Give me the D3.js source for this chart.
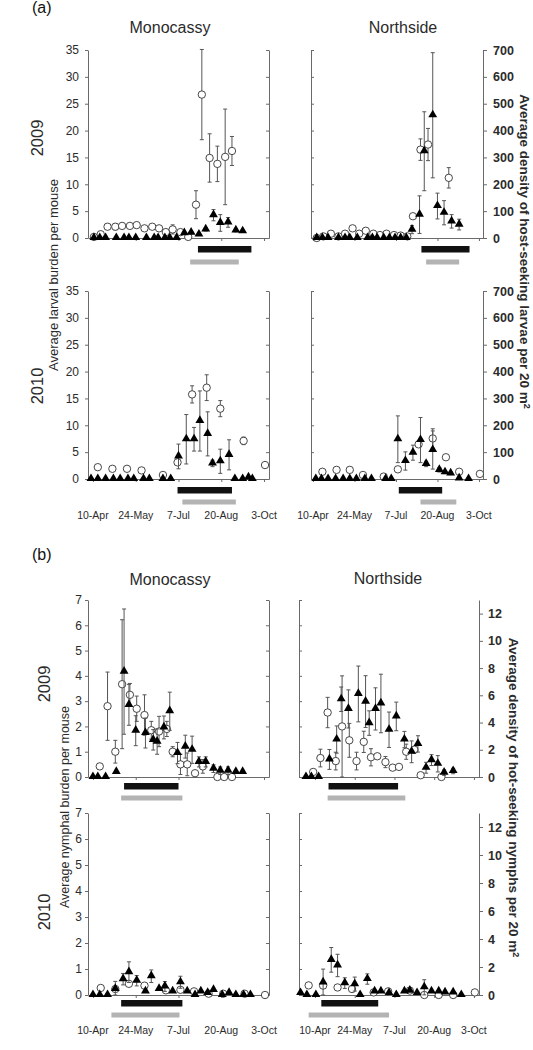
<!DOCTYPE html>
<html><head><meta charset="utf-8">
<script src="https://cdn.jsdelivr.net/npm/d3@7"></script>
<style>body{margin:0;background:#fff}svg{display:block;font-family:"Liberation Sans",Arial,sans-serif}</style>
</head><body><svg id="c" width="533" height="1050"></svg>
<script>
// ---------- axis categories / tick labels ----------
const tickDays = [0, 44, 88, 132, 176];              // days after 10-Apr
const tickLabels = ["10-Apr", "24-May", "7-Jul", "20-Aug", "3-Oct"];
const siteNames = ["Monocassy", "Northside"];
const yearNames = ["2009", "2010"];
const larvaBurdenTicks = [0, 5, 10, 15, 20, 25, 30, 35];
const larvaDensityTicks = [0, 100, 200, 300, 400, 500, 600, 700];
const nymphBurdenTicks = [0, 1, 2, 3, 4, 5, 6, 7];
const nymphDensityTicks = [0, 2, 4, 6, 8, 10, 12];

// ---------- data: [day after 10-Apr, mean, error] ----------
// (a) larvae. Burden = per mouse (left axis), Density = host-seeking per 20 m2 (right axis)
const larvMono09Burden = [[1,0.2,0.1],[8,0.7,0.2],[15,2.1,0.5],[23,2.1,0.6],[30,2.25,0.5],[38,2.25,0.4],[45,2.4,0.3],[53,1.8,0.3],[61,2.1,0.3],[68,1.8,0.3],[75,1.1,0.3],[82,1.6,0.85],[90,1.1,0.2],[98,0.2,0.1],[106,6.2,2.6],[112,26.7,8.4],[120,14.9,4.5],[128,13.8,3.3],[136,15.1,8.9],[143,16.2,2.7]];
const larvMono09Density = [[1,0,0],[7,0,0],[13,0,0],[24,0,0],[32,0,0],[37,0,0],[44,0,0],[55,0,0],[63,0,0],[67,0,0],[74,0,0],[79,0,0],[86,0,0],[94,18,4],[101,20,4],[109,13,3],[116,32,6],[124,85,21],[131,56,31],[139,58,18],[147,28,5],[154,25,4]];
const larvMono09Black = [108, 163];
const larvMono09Gray = [100, 150];

const larvNorth09Burden = [[4,0,0],[11,0.3,0],[19,0.8,0.1],[27,0.3,0],[34,0.8,0.1],[42,1.8,0.3],[49,0.8,0.1],[56,1.35,0.2],[64,0.8,0.1],[71,0.55,0],[78,0.8,0.1],[86,0.55,0],[93,0.45,0],[100,0.3,0],[106,4.05,0.4],[114,16.45,2.0],[122,17.4,3.0],[144,11.2,1.9]];
const larvNorth09Density = [[4,0,0],[10,0,0],[16,0,0],[27,0,0],[34,0,0],[39,0,0],[47,0,0],[58,0,0],[63,0,0],[68,0,0],[75,0,0],[81,0,0],[87,0,0],[93,0,0],[99,0,0],[105,31,15],[113,87,70],[118,323,147],[127,457,233],[132,119,48],[139,94,45],[147,62,25],[155,50,20]];
const larvNorth09Black = [115, 166];
const larvNorth09Gray = [120, 155];

const larvMono10Burden = [[5,2.2,0],[20,1.9,0],[35,1.9,0],[50,1.6,0],[72,0.75,0],[87,3.1,0.3],[102,15.75,1.6],[117,17.0,2.4],[131,13.1,1.5],[155,7.1,0.7],[177,2.6,0]];
const larvMono10Density = [[-2,0,0],[5,0,0],[13,0,0],[21,0,0],[28,0,0],[36,0,0],[42,0,0],[52,0,0],[58,0,0],[72,0,0],[80,0,0],[88,84,46],[96,148,92],[104,148,44],[110,216,112],[118,168,82],[123,58,12],[131,66,45],[140,90,56],[146,0,0],[154,0,0],[160,6,0],[164,0,0]];
const larvMono10Black = [87, 143];
const larvMono10Gray = [92, 147];

const larvNorth10Burden = [[10,1.35,0],[25,1.7,0],[39,1.7,0],[53,0.75,0],[75,0.45,0],[90,1.8,0],[112,6.45,0],[127,7.55,1.8],[141,4.05,0],[155,1.35,0],[177,0.95,0]];
const larvNorth10Density = [[3,0,0],[9,0,0],[16,0,0],[24,0,0],[32,0,0],[39,0,0],[46,0,0],[55,0,0],[62,0,0],[77,0,0],[83,0,0],[90,148,87],[98,67,34],[106,98,28],[114,145,84],[120,56,10],[127,108,71],[134,34,8],[140,25,5],[146,21,5],[155,2,0],[165,0,0]];
const larvNorth10Black = [91, 137];
const larvNorth10Gray = [114, 152];

// (b) nymphs
const nymMono09Burden = [[7,0.42,0.1],[15,2.8,1.35],[23,1.0,0.45],[30,3.67,2.55],[38,3.25,0.45],[45,2.7,0.5],[53,2.45,0.8],[60,1.85,0.35],[68,1.8,0.6],[76,1.9,0.3],[82,1.0,0.2],[90,0.5,0.4],[97,0.5,0.45],[105,0.15,0.1],[113,0.42,0.27],[128,0,0],[135,0,0],[143,0,0]];
const nymMono09Density = [[0,0,0],[5,0,0],[13,0,0],[24,0.37,0],[32,7.74,4.6],[37,5.3,1.5],[44,3.4,1.1],[54,3.23,1.1],[62,2.73,0.75],[66,2.6,0.93],[73,3.64,0.84],[79,4.83,1.4],[87,1.76,0.78],[95,2.23,0.84],[102,2.0,1.0],[109,1.11,0.37],[116,1.11,0.37],[124,0.61,0.28],[131,0.46,0.28],[139,0.46,0.28],[147,0.37,0],[154,0.37,0]];
const nymMono09Black = [32, 88];
const nymMono09Gray = [29, 92];

const nymNorth09Burden = [[-2,0.2,0],[6,0.75,0.35],[14,2.55,0.6],[23,0.63,0.35],[30,2.0,2.0],[38,1.45,0.67],[46,0.63,0.35],[54,1.39,0.42],[62,0.78,0.34],[69,0.82,0],[78,0.59,0.22],[86,0.37,0],[93,0.4,0],[101,1.0,0.3],[110,1.08,0],[117,0.07,0],[140,0,0]];
const nymNorth09Density = [[-10,0,0],[-4,0,0],[4,0,0],[16,1.29,0.73],[24,2.75,1.0],[29,5.71,0.9],[37,5.0,1.4],[48,6.1,2.05],[56,5.54,1.9],[60,3.96,0.9],[67,5.0,1.55],[73,5.4,2.15],[82,3.47,1.3],[90,4.45,1.05],[99,2.75,0.6],[107,1.85,0.8],[114,2.43,0.6],[123,0.68,0.4],[129,1.24,0.4],[136,0.97,0.6],[143,0.32,0.2],[153,0.44,0.2]];
const nymNorth09Black = [15, 92];
const nymNorth09Gray = [14, 100];

const nymMono10Burden = [[8,0.27,0],[23,0.23,0],[37,0.43,0.1],[53,0.36,0],[75,0.18,0],[90,0.2,0.05],[104,0.14,0],[119,0.05,0],[134,0.05,0],[156,0.05,0],[177,0,0]];
const nymMono10Density = [[0,0,0],[7,0,0],[15,0,0],[23,0.43,0.54],[31,1.13,0.41],[37,1.63,0.74],[45,1.02,0.37],[54,0.26,0],[60,1.34,0.45],[68,0.43,0],[74,0.61,0.35],[82,0.26,0],[90,0.91,0.43],[97,0.26,0],[105,0,0],[111,0.26,0],[118,0.15,0],[124,0.37,0],[133,0,0],[140,0.15,0],[147,0,0],[155,0,0],[162,0,0]];
const nymMono10Black = [29, 92];
const nymMono10Gray = [19, 89];

const nymNorth10Burden = [[-7,0.37,0],[9,0.36,0],[25,0.29,0],[41,0.23,0],[65,0.1,0],[81,0.14,0],[105,0.17,0],[121,0,0],[137,0,0],[153,0,0],[177,0.1,0]];
const nymNorth10Density = [[-16,0.14,0],[-9,0,0],[1,0,0],[9,0.9,0.95],[18,2.51,0.88],[25,2.11,0.8],[33,0.85,0.38],[44,0.78,0.5],[50,0,0],[58,1.14,0.37],[66,0.26,0],[73,0.26,0],[82,0.14,0],[90,0,0],[99,0.26,0],[105,0.31,0],[113,0.14,0],[121,0.55,0.54],[129,0.26,0],[137,0.26,0],[144,0.19,0],[153,0.19,0],[162,0,0]];
const nymNorth10Black = [7, 70];
const nymNorth10Gray = [-7, 82];

// ---------- layout ----------
const rows = {
  a09: {top: 50, bottom: 238, barY: [249, 262], stage: "larva", labels: false},
  a10: {top: 291, bottom: 479, barY: [490, 502], stage: "larva", labels: true, labelY: 519},
  b09: {top: 600, bottom: 777, barY: [786, 798], stage: "nymph", labels: false},
  b10: {top: 813, bottom: 995, barY: [1003, 1015], stage: "nymph", labels: true, labelY: 1034}
};
const cols = {
  monoA: {left: 88, right: 269, dom: [-5.1, 181.1]},
  northA: {left: 311, right: 483, dom: [-2.1, 180.3]},
  monoB: {left: 88, right: 269, dom: [-5.1, 181.1]},
  northB: {left: 299, right: 479, dom: [-17.7, 181.6]}
};
const stages = {
  larva: {lMax: 35, rMax: 700, lTicks: larvaBurdenTicks, rTicks: larvaDensityTicks, lPad: 6, rPad: 6},
  nymph: {lMax: 7, rMax: 13, lTicks: nymphBurdenTicks, rTicks: nymphDensityTicks, lPad: 3, rPad: 5}
};
const panels = [
  {row: "a09", col: "monoA", site: 0, burden: larvMono09Burden, density: larvMono09Density, black: larvMono09Black, gray: larvMono09Gray},
  {row: "a09", col: "northA", site: 1, burden: larvNorth09Burden, density: larvNorth09Density, black: larvNorth09Black, gray: larvNorth09Gray},
  {row: "a10", col: "monoA", site: 0, burden: larvMono10Burden, density: larvMono10Density, black: larvMono10Black, gray: larvMono10Gray},
  {row: "a10", col: "northA", site: 1, burden: larvNorth10Burden, density: larvNorth10Density, black: larvNorth10Black, gray: larvNorth10Gray},
  {row: "b09", col: "monoB", site: 0, burden: nymMono09Burden, density: nymMono09Density, black: nymMono09Black, gray: nymMono09Gray},
  {row: "b09", col: "northB", site: 1, burden: nymNorth09Burden, density: nymNorth09Density, black: nymNorth09Black, gray: nymNorth09Gray},
  {row: "b10", col: "monoB", site: 0, burden: nymMono10Burden, density: nymMono10Density, black: nymMono10Black, gray: nymMono10Gray},
  {row: "b10", col: "northB", site: 1, burden: nymNorth10Burden, density: nymNorth10Density, black: nymNorth10Black, gray: nymNorth10Gray}
];

const svg = d3.select("#c");
const AX = "#6a6a6a", ERR = "#555", TXT = "#2b2b2b";
const fmt = d3.format("d");

function styleAxis(g, fontSize, bold) {
  g.select(".domain").attr("stroke", AX).attr("stroke-width", 1);
  g.selectAll(".tick line").attr("stroke", AX).attr("stroke-width", 1);
  g.selectAll(".tick text").attr("fill", TXT).attr("font-size", fontSize)
    .attr("font-weight", bold ? "bold" : "normal").attr("font-family", "Liberation Sans, Arial, sans-serif");
}

panels.forEach(p => {
  const r = rows[p.row], c = cols[p.col], st = stages[r.stage];
  const x = d3.scaleLinear().domain(c.dom).range([c.left, c.right]);
  const yL = d3.scaleLinear().domain([0, st.lMax]).range([r.bottom, r.top]);
  const yR = d3.scaleLinear().domain([0, st.rMax]).range([r.bottom, r.top]);
  const g = svg.append("g");

  // x axis line with ticks
  g.append("g").attr("transform", `translate(0,${r.bottom})`)
    .call(d3.axisBottom(x).tickValues(tickDays).tickSize(3).tickSizeOuter(0).tickFormat(""))
    .call(a => styleAxis(a, 10, false));

  if (p.site === 0) {
    g.append("g").attr("transform", `translate(${c.left},0)`)
      .call(d3.axisLeft(yL).tickValues(st.lTicks).tickSize(3).tickSizeOuter(0).tickPadding(st.lPad).tickFormat(fmt))
      .call(a => styleAxis(a, 12, false));
    g.append("g").attr("transform", `translate(${c.right},0)`)
      .call(d3.axisLeft(yL).tickValues(st.lTicks).tickSize(3).tickSizeOuter(0).tickFormat(""))
      .call(a => styleAxis(a, 10, false));
  } else {
    g.append("g").attr("transform", `translate(${c.left},0)`)
      .call(d3.axisRight(yL).tickValues(st.lTicks).tickSize(3).tickSizeOuter(0).tickFormat(""))
      .call(a => styleAxis(a, 10, false));
    g.append("g").attr("transform", `translate(${c.right},0)`)
      .call(d3.axisRight(yR).tickValues(st.rTicks).tickSize(4).tickSizeOuter(0).tickPadding(st.rPad).tickFormat(fmt))
      .call(a => styleAxis(a, 12.5, true));
  }

  // period bars
  g.append("rect").attr("x", x(p.black[0])).attr("width", x(p.black[1]) - x(p.black[0]))
    .attr("y", r.barY[0] - 3).attr("height", 6.5).attr("fill", "#111");
  g.append("rect").attr("x", x(p.gray[0])).attr("width", x(p.gray[1]) - x(p.gray[0]))
    .attr("y", r.barY[1] - 2.5).attr("height", 5).attr("fill", "#b3b3b3");

  function errBars(data, y) {
    const e = g.append("g").attr("stroke", ERR).attr("stroke-width", 1).attr("fill", "none");
    data.filter(d => d[2] > 0).forEach(d => {
      const cx = x(d[0]), y1 = y(d[1] + d[2]), y0 = y(Math.max(0, d[1] - d[2]));
      e.append("line").attr("x1", cx).attr("x2", cx).attr("y1", y1).attr("y2", y0);
      e.append("line").attr("x1", cx - 2).attr("x2", cx + 2).attr("y1", y1).attr("y2", y1);
      e.append("line").attr("x1", cx - 2).attr("x2", cx + 2).attr("y1", y0).attr("y2", y0);
    });
  }
  // open circles: burden on mice (left axis)
  errBars(p.burden, yL);
  g.append("g").selectAll("circle").data(p.burden).join("circle")
    .attr("cx", d => x(d[0])).attr("cy", d => yL(d[1])).attr("r", 3.7)
    .attr("fill", "#fff").attr("stroke", "#333").attr("stroke-width", 0.9);
  // filled triangles: host-seeking density (right axis)
  errBars(p.density, yR);
  const tri = d3.symbol().type(d3.symbolTriangle).size(34);
  g.append("g").selectAll("path").data(p.density).join("path")
    .attr("d", tri).attr("transform", d => `translate(${x(d[0])},${yR(d[1]) - 0.5})`)
    .attr("fill", "#000");

  if (r.labels) {
    g.append("g").selectAll("text").data(tickDays).join("text")
      .attr("x", d => x(d)).attr("y", r.labelY).attr("text-anchor", "middle")
      .attr("font-size", 10.5).attr("fill", TXT).text((d, i) => tickLabels[i]);
  }
});

// ---------- text ----------
function txt(xp, yp, s, size, opts = {}) {
  const t = svg.append("text").attr("x", xp).attr("y", yp).attr("font-size", size)
    .attr("fill", opts.fill || TXT).attr("text-anchor", opts.anchor || "middle")
    .attr("font-weight", opts.bold ? "bold" : "normal");
  if (opts.rot) t.attr("transform", `rotate(${opts.rot},${xp},${yp})`).attr("dy", "0.36em");
  return t.text(s);
}
txt(32, 13, "(a)", 16, {anchor: "start", fill: "#111"});
txt(32, 560, "(b)", 16, {anchor: "start", fill: "#111"});
txt(170, 33, siteNames[0], 16);
txt(403, 33, siteNames[1], 16);
txt(170, 585, siteNames[0], 16);
txt(388, 584, siteNames[1], 16);
txt(37.5, 138, yearNames[0], 16.5, {rot: -90});
txt(37.5, 386, yearNames[1], 16.5, {rot: -90});
txt(44, 684, yearNames[0], 16.5, {rot: -90});
txt(44, 912, yearNames[1], 16.5, {rot: -90});
txt(53.5, 275, "Average larval burden per mouse", 13, {rot: -90});
txt(64.3, 807, "Average nymphal burden per mouse", 12.5, {rot: -90});
const r1 = txt(525, 251.5, "Average density of host-seeking larvae per 20 m", 13.5, {rot: 90, bold: true});
r1.append("tspan").attr("dy", "-0.45em").attr("font-size", 9).text("2");
const r2 = txt(514, 797.5, "Average density of hot-seeking nymphs per 20 m", 13.5, {rot: 90, bold: true});
r2.append("tspan").attr("dy", "-0.45em").attr("font-size", 9).text("2");
</script></body></html>
